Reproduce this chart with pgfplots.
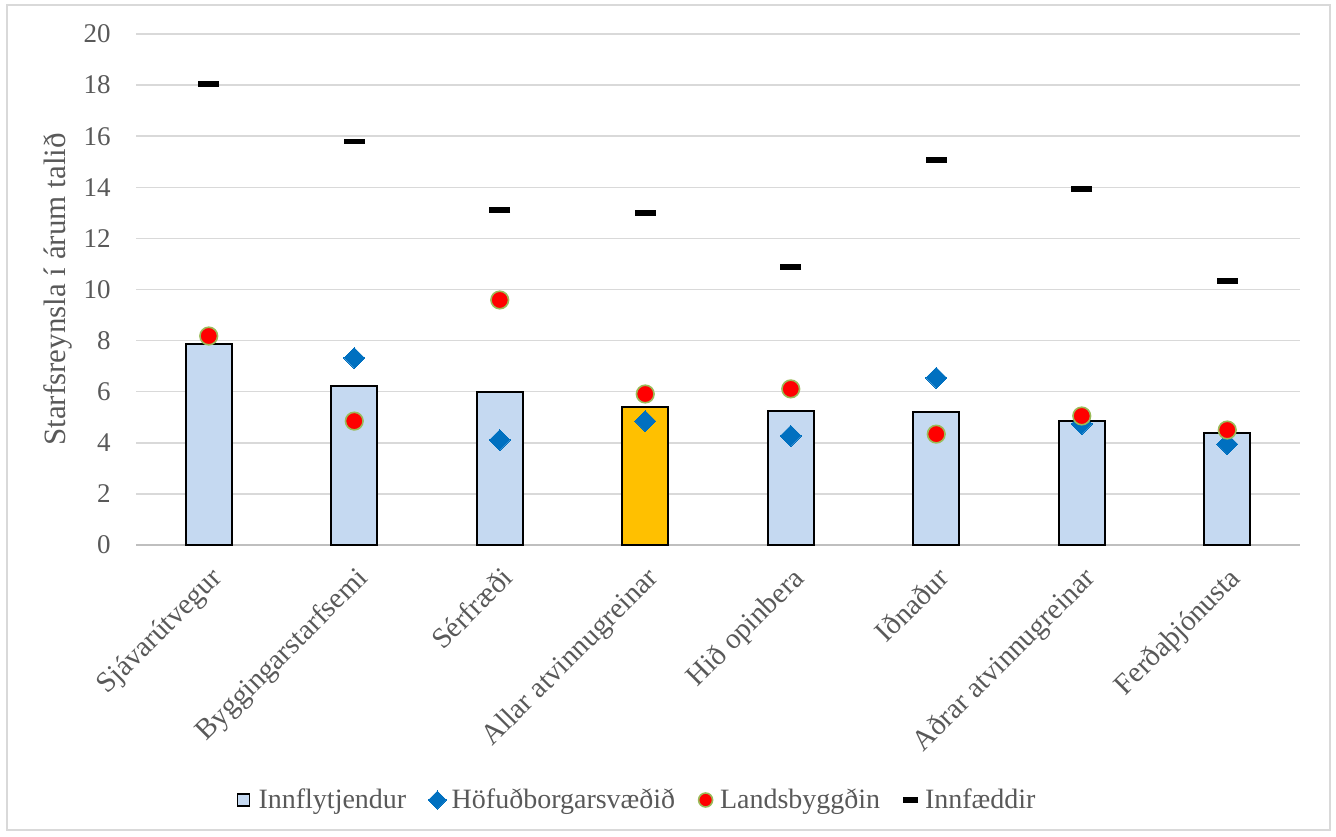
\documentclass[border=0pt]{standalone}
\usepackage{fontspec}
\setmainfont{Liberation Serif}
\usepackage{pgfplots}
\pgfplotsset{compat=1.18}
\definecolor{barblue}{HTML}{C5D9F1}
\definecolor{barorange}{HTML}{FFC000}
\definecolor{diam}{HTML}{0070C0}
\definecolor{circedge}{HTML}{9BBB59}
\definecolor{txt}{HTML}{595959}
\definecolor{gridc}{HTML}{D9D9D9}
\pgfplotsset{markleg/.style={legend image code/.code={\path (0pt,0pt) (9pt,0pt);\draw[##1, mark size=#1] plot coordinates {(4pt,0pt)};}}}
\begin{document}
\begin{tikzpicture}
\path[use as bounding box] (0,0) rectangle (668pt,418pt);
\draw[gridc, line width=1pt] (3.5pt,3pt) rectangle (665pt,415.5pt);
\begin{axis}[
  at={(68pt,145.5pt)}, anchor=south west, scale only axis,
  width=582pt, height=255.5pt,
  xmin=-0.5, xmax=7.5, ymin=0, ymax=20,
  ytick={0,2,...,20},
  xtick={0,...,7},
  xticklabels={Sjávarútvegur, Byggingarstarfsemi, Sérfræði, Allar atvinnugreinar, Hið opinbera, Iðnaður, Aðrar atvinnugreinar, Ferðaþjónusta},
  axis x line*=bottom, axis y line*=left,
  x axis line style={draw=black!25, line width=0.75pt, -},
  y axis line style={draw=none},
  ymajorgrids, grid style={gridc, line width=0.75pt},
  major tick length=0pt,
  /pgf/number format/assume math mode=true,
  tick label style={text=txt},
  yticklabel style={font=\fontsize{13.5}{14}\selectfont, inner sep=0pt, xshift=-12.5pt},
  xticklabel style={font=\fontsize{14.5}{15}\selectfont, inner sep=0pt, xshift=0pt, yshift=-10pt, rotate=45, anchor=north east},
  ylabel={Starfsreynsla í árum talið},
  ylabel style={font=\fontsize{15.5}{16}\selectfont, text=txt, at={(axis description cs:-0.067,0.5)}, anchor=center},
  legend style={at={(0.4304,-0.499)}, anchor=center, draw=none, fill=none,
    font=\fontsize{14}{15}\selectfont, text=txt,
    /tikz/every even column/.append style={column sep=9pt}},
  legend columns=4,
  legend cell align=left,
]
\addplot[ybar, bar width=22.8pt, bar shift=0pt, fill=barblue, draw=black, line width=1pt,
  legend image code/.code={\path (0pt,0pt) (9pt,0pt);\draw[fill=barblue, draw=black, line width=0.8pt] (1pt,-3pt) rectangle (7pt,3pt);}]
  coordinates {(0,7.87) (1,6.22) (2,5.99) (4,5.24) (5,5.21) (6,4.85) (7,4.38)};
\addlegendentry{Innflytjendur}
\addplot[ybar, bar width=22.8pt, bar shift=0pt, fill=barorange, draw=black, line width=1pt, forget plot]
  coordinates {(3,5.40)};
\addplot[only marks, mark=square*, mark size=3.7pt, mark options={rotate=45, fill=diam, draw=diam, line width=0pt},
  markleg=3.2pt]
  coordinates {(1,7.32) (2,4.11) (3,4.85) (4,4.27) (5,6.54) (6,4.74) (7,3.95)};
\addlegendentry{Höfuðborgarsvæðið}
\addplot[only marks, mark=*, mark size=4.4pt, mark options={fill=red, draw=circedge, line width=0.8pt},
  markleg=3.5pt]
  coordinates {(0,8.18) (1,4.85) (2,9.59) (3,5.91) (4,6.11) (5,4.34) (6,5.05) (7,4.50)};
\addlegendentry{Landsbyggðin}
\addplot[only marks, mark=-, mark size=5.2pt, mark options={draw=black, line width=2.8pt},
  markleg=3.75pt]
  coordinates {(0,18.05) (1,15.80) (2,13.11) (3,12.99) (4,10.88) (5,15.07) (6,13.93) (7,10.33)};
\addlegendentry{Innfæddir}
\end{axis}
\end{tikzpicture}
\end{document}
